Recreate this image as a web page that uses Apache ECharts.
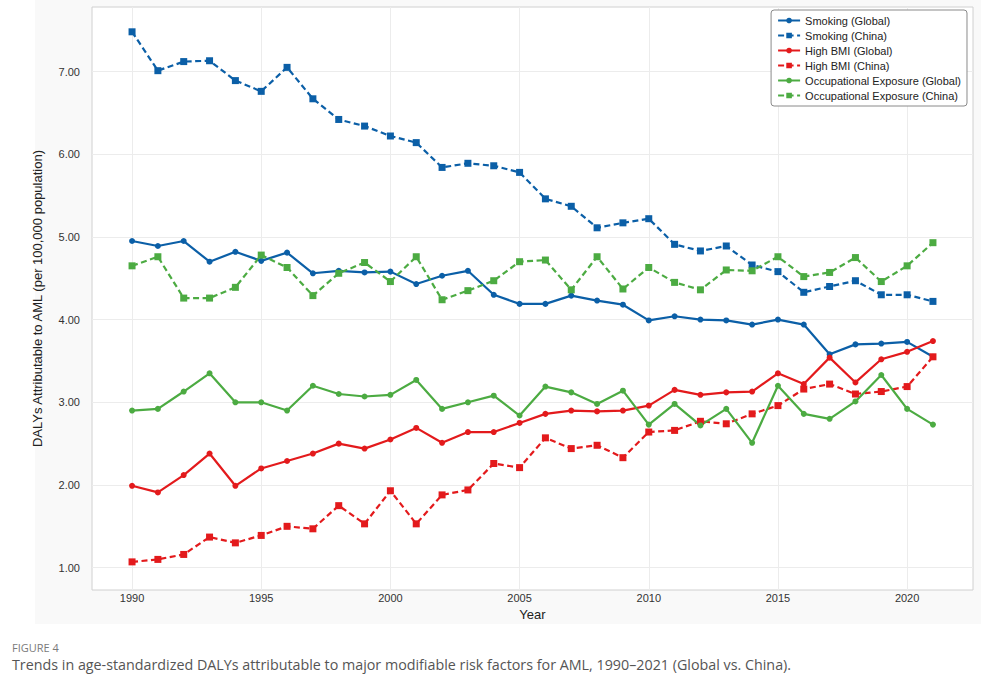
<!DOCTYPE html>
<html>
<head>
<meta charset="utf-8">
<script src="https://cdn.jsdelivr.net/npm/echarts@6/dist/echarts.min.js"></script>
<style>
html,body{margin:0;padding:0;background:#fff;}
#chart{width:981px;height:675px;}
</style>
</head>
<body>
<div id="chart"></div>
<script>
const years = [1990,1991,1992,1993,1994,1995,1996,1997,1998,1999,2000,2001,2002,2003,2004,2005,2006,2007,2008,2009,2010,2011,2012,2013,2014,2015,2016,2017,2018,2019,2020,2021];
const xTicks = [1990,1995,2000,2005,2010,2015,2020];
const yTicks = [1,2,3,4,5,6,7];

const smokingGlobal = [4.95,4.89,4.95,4.70,4.82,4.71,4.81,4.56,4.59,4.57,4.58,4.43,4.53,4.59,4.30,4.19,4.19,4.29,4.23,4.18,3.99,4.04,4.00,3.99,3.94,4.00,3.94,3.58,3.70,3.71,3.73,3.55];
const smokingChina = [7.48,7.01,7.12,7.13,6.89,6.76,7.05,6.67,6.42,6.34,6.22,6.14,5.84,5.89,5.86,5.78,5.46,5.37,5.11,5.17,5.22,4.91,4.83,4.89,4.66,4.58,4.33,4.40,4.47,4.30,4.30,4.22];
const bmiGlobal = [1.99,1.91,2.12,2.38,1.99,2.20,2.29,2.38,2.50,2.44,2.55,2.69,2.51,2.64,2.64,2.75,2.86,2.90,2.89,2.90,2.96,3.15,3.09,3.12,3.13,3.35,3.22,3.54,3.24,3.52,3.61,3.74];
const bmiChina = [1.07,1.10,1.16,1.37,1.30,1.39,1.50,1.47,1.75,1.53,1.93,1.53,1.88,1.94,2.26,2.21,2.57,2.44,2.48,2.33,2.64,2.66,2.77,2.74,2.86,2.96,3.16,3.22,3.10,3.13,3.19,3.55];
const occGlobal = [2.90,2.92,3.13,3.35,3.00,3.00,2.90,3.20,3.10,3.07,3.09,3.27,2.92,3.00,3.08,2.84,3.19,3.12,2.98,3.14,2.73,2.98,2.72,2.92,2.51,3.20,2.86,2.80,3.01,3.33,2.92,2.73];
const occChina = [4.65,4.76,4.26,4.26,4.39,4.78,4.63,4.29,4.56,4.69,4.46,4.76,4.24,4.35,4.47,4.70,4.72,4.36,4.76,4.37,4.63,4.45,4.36,4.60,4.59,4.76,4.52,4.57,4.75,4.46,4.65,4.93];

const seriesNames = ['Smoking (Global)','Smoking (China)','High BMI (Global)','High BMI (China)','Occupational Exposure (Global)','Occupational Exposure (China)'];

const BLUE = '#0b5fa7', RED = '#e31a1c', GREEN = '#4cab42';

function mk(name, vals, color, china) {
  return {
    name: name,
    type: 'line',
    data: years.map((y, i) => [y, vals[i]]),
    symbol: china ? 'rect' : 'circle',
    symbolSize: china ? 7 : 6,
    showSymbol: true,
    z: 3,
    lineStyle: { color: color, width: 2.2, type: china ? [6, 3.5] : 'solid' },
    itemStyle: { color: color },
    emphasis: { disabled: true },
    animation: false
  };
}

const chart = echarts.init(document.getElementById('chart'), null, { renderer: 'svg' });
chart.setOption({
  animation: false,
  backgroundColor: '#ffffff',
  textStyle: { fontFamily: 'Liberation Sans, Arial, sans-serif' },
  graphic: [
    { type: 'rect', z: -10, left: 35, top: 0, shape: { width: 946, height: 624 }, style: { fill: '#f9f9f9' }, silent: true },
    { type: 'text', left: 12, top: 642, style: { text: 'FIGURE 4', fill: '#7a7a7a', font: '11px "Open Sans", sans-serif' } },
    { type: 'text', left: 12, top: 657, style: { text: 'Trends in age-standardized DALYs attributable to major modifiable risk factors for AML, 1990\u20132021 (Global vs. China).', fill: '#555555', font: '14.3px "Open Sans", sans-serif' } }
  ],
  grid: { left: 92, right: 8, top: 7, bottom: 85, show: true, backgroundColor: '#ffffff', borderColor: '#d0d0d0', borderWidth: 1 },
  legend: {
    orient: 'vertical',
    right: 14,
    top: 10,
    data: seriesNames,
    backgroundColor: '#ffffff',
    borderColor: '#8a8a8a',
    borderWidth: 1,
    borderRadius: 3,
    padding: [5, 6, 5, 6],
    itemGap: 4,
    itemWidth: 22,
    itemHeight: 7,
    textStyle: { fontSize: 11, color: '#222', fontFamily: 'Liberation Sans, Arial, sans-serif' }
  },
  xAxis: {
    type: 'value',
    min: 1988.45,
    max: 2022.55,
    name: 'Year',
    nameLocation: 'middle',
    nameGap: 13,
    nameTextStyle: { fontSize: 13, color: '#222' },
    axisLine: { show: false },
    axisTick: { show: false, customValues: xTicks },
    axisLabel: { customValues: xTicks, fontSize: 11, color: '#333', margin: 2, formatter: v => String(v) },
    splitLine: { show: true, lineStyle: { color: '#ececec', width: 1 } }
  },
  yAxis: {
    type: 'value',
    min: 0.73,
    max: 7.78,
    name: 'DALYs Attributable to AML (per 100,000 population)',
    nameLocation: 'middle',
    nameGap: 48,
    nameTextStyle: { fontSize: 13, color: '#222' },
    axisLine: { show: false },
    axisTick: { show: false, customValues: yTicks },
    axisLabel: { customValues: yTicks, fontSize: 11, color: '#333', margin: 12, formatter: v => v.toFixed(2) },
    splitLine: { show: true, lineStyle: { color: '#ececec', width: 1 } }
  },
  series: [
    mk(seriesNames[0], smokingGlobal, BLUE, false),
    mk(seriesNames[1], smokingChina, BLUE, true),
    mk(seriesNames[2], bmiGlobal, RED, false),
    mk(seriesNames[3], bmiChina, RED, true),
    mk(seriesNames[4], occGlobal, GREEN, false),
    mk(seriesNames[5], occChina, GREEN, true)
  ]
});
</script>
</body>
</html>
